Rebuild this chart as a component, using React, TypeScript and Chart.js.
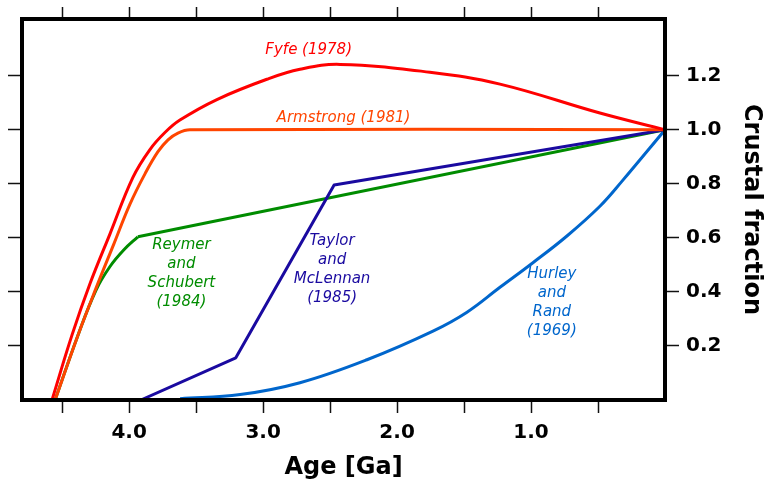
import React, { useEffect, useRef } from 'react';
import { Chart, registerables } from 'chart.js';

Chart.register(...registerables);

// ---- Data (age in Ga, crustal fraction) ----
const fyfeAge = [4.576, 4.427, 4.292, 4.143, 3.972, 3.845, 3.733, 3.621, 3.345, 2.972, 2.725, 2.426, 1.755, 1.232, 0.486, 0];
const fyfeVal = [0, 0.24, 0.431, 0.615, 0.824, 0.927, 0.99, 1.036, 1.112, 1.187, 1.224, 1.242, 1.213, 1.169, 1.062, 1.0];

const armstrongAge = [4.553, 4.382, 4.248, 4.114, 3.994, 3.882, 3.785, 3.71, 3.636, 3.546, 0];
const armstrongVal = [0, 0.24, 0.413, 0.578, 0.725, 0.837, 0.919, 0.963, 0.988, 1.0, 1.0];

const reymerCurveAge = [4.553, 4.382, 4.248, 4.143, 4.039, 3.935];
const reymerCurveVal = [0, 0.24, 0.406, 0.494, 0.556, 0.604];
const reymerLineAge = [3.935, 0];
const reymerLineVal = [0.604, 1.0];

const taylorAge = [3.913, 3.204, 2.47, 0];
const taylorVal = [0, 0.156, 0.796, 1.0];

const hurleyAge = [3.62, 3.172, 2.725, 2.225, 1.732, 1.478, 1.232, 0.986, 0.732, 0.486, 0.322, 0];
const hurleyVal = [0.005, 0.02, 0.064, 0.149, 0.255, 0.325, 0.417, 0.508, 0.607, 0.717, 0.809, 1.0];

const xTickValues = [4.5, 4.0, 3.5, 3.0, 2.5, 2.0, 1.5, 1.0, 0.5];
const yTickValues = [0.2, 0.4, 0.6, 0.8, 1.0, 1.2];

const labelTexts = [
  ['Fyfe (1978)'],
  ['Armstrong (1981)'],
  ['Reymer', 'and', 'Schubert', '(1984)'],
  ['Taylor', 'and', 'McLennan', '(1985)'],
  ['Hurley', 'and', 'Rand', '(1969)'],
];
const labelAges = [2.66, 2.4, 3.61, 2.485, 0.845];
const labelVals = [1.294, 1.044, 0.466, 0.484, 0.359];

const colFyfe = '#ff0000';
const colArmstrong = '#ff4500';
const colReymer = '#008c00';
const colTaylor = '#1a0aa0';
const colHurley = '#0066cc';
const labelColors = [colFyfe, colArmstrong, colReymer, colTaylor, colHurley];

const pts = (a: number[], v: number[]) => a.map((x, i) => ({ x, y: v[i] }));

const framePlugin = {
  id: 'frame',
  afterDraw(chart: any) {
    const { ctx, chartArea: a } = chart;
    ctx.save();
    ctx.strokeStyle = '#000';
    ctx.lineWidth = 4;
    ctx.strokeRect(a.left, a.top, a.right - a.left, a.bottom - a.top);
    ctx.restore();
  },
};

const labelPlugin = {
  id: 'curveLabels',
  afterDatasetsDraw(chart: any) {
    const { ctx } = chart;
    const xs = chart.scales.x;
    const ys = chart.scales.y;
    ctx.save();
    ctx.font = 'italic 15px "DejaVu Sans", sans-serif';
    ctx.textAlign = 'center';
    ctx.textBaseline = 'middle';
    const lh = 19;
    labelTexts.forEach((lines, i) => {
      const cx = xs.getPixelForValue(labelAges[i]);
      const cy = ys.getPixelForValue(labelVals[i]);
      ctx.fillStyle = labelColors[i];
      lines.forEach((t, j) => {
        ctx.fillText(t, cx, cy + (j - (lines.length - 1) / 2) * lh);
      });
    });
    ctx.restore();
  },
};

export default function App() {
  const ref = useRef<HTMLCanvasElement>(null);
  useEffect(() => {
    Chart.defaults.font.family = '"DejaVu Sans", sans-serif';
    const ds = (label: string, a: number[], v: number[], color: string, smooth: boolean) => ({
      label,
      data: pts(a, v),
      borderColor: color,
      backgroundColor: color,
      borderWidth: 3,
      pointRadius: 0,
      fill: false,
      tension: smooth ? 0.4 : 0,
      borderJoinStyle: 'round' as const,
    });
    const grid = {
      drawOnChartArea: false,
      drawTicks: true,
      tickLength: 13,
      tickWidth: 1.5,
      tickColor: '#111',
      color: '#111',
    };
    const tickFont = { family: '"DejaVu Sans", sans-serif', size: 20, weight: 'bold' as const };
    const chart = new Chart(ref.current!, {
      type: 'line',
      data: {
        datasets: [
          ds('Fyfe (1978)', fyfeAge, fyfeVal, colFyfe, true),
          ds('Armstrong (1981)', armstrongAge, armstrongVal, colArmstrong, true),
          ds('Taylor and McLennan (1985)', taylorAge, taylorVal, colTaylor, false),
          ds('Reymer and Schubert (1984)', reymerCurveAge, reymerCurveVal, colReymer, true),
          ds('Reymer and Schubert (1984) linear', reymerLineAge, reymerLineVal, colReymer, false),
          ds('Hurley and Rand (1969)', hurleyAge, hurleyVal, colHurley, true),
        ] as any,
      },
      options: {
        animation: false,
        responsive: true,
        maintainAspectRatio: false,
        layout: { padding: 0 },
        plugins: { legend: { display: false }, tooltip: { enabled: false } },
        scales: {
          x: {
            type: 'linear',
            position: 'bottom',
            reverse: true,
            min: 0,
            max: 4.8,
            afterBuildTicks: (s: any) => {
              s.ticks = xTickValues.map((value) => ({ value }));
            },
            afterFit: (s: any) => {
              s.height = 82;
            },
            grid,
            border: { display: false },
            ticks: {
              autoSkip: false,
              maxRotation: 0,
              padding: 8,
              color: '#000',
              font: tickFont,
              callback: (v: any) => (Math.abs(v - Math.round(v)) < 1e-9 ? Number(v).toFixed(1) : ''),
            },
            title: {
              display: true,
              text: 'Age [Ga]',
              color: '#000',
              font: { family: '"DejaVu Sans", sans-serif', size: 24, weight: 'bold' },
              padding: { top: 0, bottom: 0 },
            },
          },
          xt: {
            type: 'linear',
            position: 'top',
            reverse: true,
            min: 0,
            max: 4.8,
            afterBuildTicks: (s: any) => {
              s.ticks = xTickValues.map((value) => ({ value }));
            },
            afterFit: (s: any) => {
              s.height = 17;
            },
            grid: { ...grid, tickLength: 12 },
            border: { display: false },
            ticks: { display: false },
          },
          y: {
            type: 'linear',
            position: 'right',
            min: 0,
            max: 1.41,
            afterBuildTicks: (s: any) => {
              s.ticks = yTickValues.map((value) => ({ value }));
            },
            afterFit: (s: any) => {
              s.width = 101;
            },
            grid: { ...grid, tickLength: 14 },
            border: { display: false },
            ticks: {
              autoSkip: false,
              padding: 7,
              color: '#000',
              font: tickFont,
              crossAlign: 'near',
              callback: (v: any) => Number(v).toFixed(1),
            },
            title: {
              display: true,
              text: 'Crustal fraction',
              color: '#000',
              font: { family: '"DejaVu Sans", sans-serif', size: 24, weight: 'bold' },
              padding: { top: 0, bottom: 0 },
            },
          },
          yl: {
            type: 'linear',
            position: 'left',
            min: 0,
            max: 1.41,
            afterBuildTicks: (s: any) => {
              s.ticks = yTickValues.map((value) => ({ value }));
            },
            afterFit: (s: any) => {
              s.width = 22;
            },
            grid: { ...grid, tickLength: 14 },
            border: { display: false },
            ticks: { display: false },
          },
        },
      } as any,
      plugins: [labelPlugin, framePlugin],
    });
    return () => chart.destroy();
  }, []);
  return (
    <div style={{ position: 'fixed', left: 0, top: 0, width: 766, height: 482, background: '#fff' }}>
      <canvas ref={ref} />
    </div>
  );
}
